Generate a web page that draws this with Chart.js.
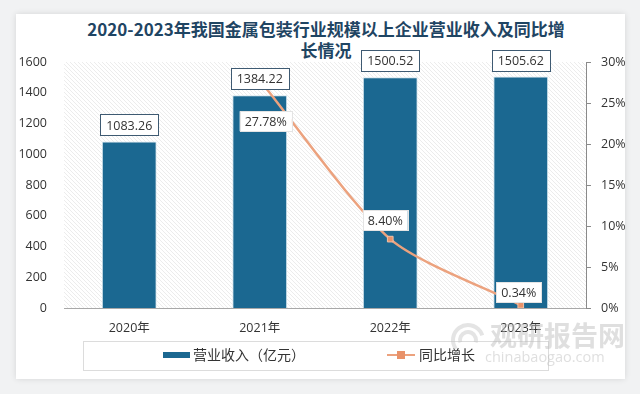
<!DOCTYPE html>
<html>
<head>
<meta charset="utf-8">
<script src="https://cdn.jsdelivr.net/npm/chart.js@4"></script>
<style>
  body { margin: 0; background: #f1f2f3; width: 640px; height: 394px; overflow: hidden; position: relative; }
  .card { position: absolute; left: 16px; top: 14px; width: 609px; height: 365px; background: #fff;
          box-shadow: 0 0 6px rgba(0,0,0,0.12); }
  .title { position: absolute; left: 0; top: 18px; width: 652px; text-align: center;
           font: bold 17px "Noto Sans CJK SC", sans-serif; line-height: 21px; color: #1f4563; }
  .wrap { position: absolute; left: 0; top: 0; width: 640px; height: 394px; }
</style>
</head>
<body>
<div class="card"></div>
<div class="title">2020-2023年我国金属包装行业规模以上企业营业收入及同比增<br>长情况</div>
<div class="wrap"><canvas id="chart" width="640" height="394"></canvas></div>
<script>
// 数据
const years = ['2020年', '2021年', '2022年', '2023年'];
const revenue = [1083.26, 1384.22, 1500.52, 1505.62];   // 营业收入（亿元）
const growth = [null, 27.78, 8.40, 0.34];               // 同比增长（%）
const leftTicks = [0, 200, 400, 600, 800, 1000, 1200, 1400, 1600];
const rightTicks = [0, 5, 10, 15, 20, 25, 30];

const barColor = '#1b6891';
const lineColor = '#eca27e';
const numFont = '12.5px "Open Sans", sans-serif';

// 折线标签相对数据点的偏移
const lineLabelOffsets = [null, [6, 41], [-5, -19], [-2, -13]];

// 斜线底纹
const hatchPlugin = {
    id: 'hatch',
    beforeDraw(chart) {
        const { ctx, chartArea: a } = chart;
        ctx.save();
        ctx.beginPath();
        ctx.rect(a.left, a.top, a.right - a.left, a.bottom - a.top);
        ctx.clip();
        ctx.strokeStyle = '#ececec';
        ctx.lineWidth = 1;
        const h = a.bottom - a.top;
        for (let k = a.left - h; k < a.right; k += 4) {
            ctx.beginPath();
            ctx.moveTo(k, a.top);
            ctx.lineTo(k + h, a.bottom);
            ctx.stroke();
        }
        ctx.restore();
    }
};

// 数据标签
const labelPlugin = {
    id: 'valueLabels',
    afterDatasetsDraw(chart) {
        const ctx = chart.ctx;
        ctx.save();
        ctx.font = numFont;
        ctx.textAlign = 'center';
        ctx.textBaseline = 'middle';

        chart.getDatasetMeta(0).data.forEach((el, i) => {
            const txt = revenue[i].toFixed(2);
            const w = ctx.measureText(txt).width + 12, h = 21;
            const x = el.x, y = el.y - 6 - h / 2;
            ctx.fillStyle = '#fff';
            ctx.fillRect(x - w / 2, y - h / 2, w, h);
            ctx.strokeStyle = '#3e5a72';
            ctx.lineWidth = 1;
            ctx.strokeRect(Math.round(x - w / 2) + 0.5, Math.round(y - h / 2) + 0.5, Math.round(w), h);
            ctx.fillStyle = '#333';
            ctx.fillText(txt, x, y + 1);
        });

        chart.getDatasetMeta(1).data.forEach((el, i) => {
            if (growth[i] === null) return;
            const txt = growth[i].toFixed(2) + '%';
            const off = lineLabelOffsets[i];
            const w = ctx.measureText(txt).width + 10, h = 20;
            const x = el.x + off[0], y = el.y + off[1];
            ctx.fillStyle = '#fff';
            ctx.fillRect(x - w / 2, y - h / 2, w, h);
            ctx.strokeStyle = '#e4e4e4';
            ctx.strokeRect(Math.round(x - w / 2) + 0.5, Math.round(y - h / 2) + 0.5, Math.round(w), h);
            ctx.fillStyle = '#333';
            ctx.fillText(txt, x, y + 1);
        });
        ctx.restore();
    }
};

// 图例与水印
const legendPlugin = {
    id: 'boxLegend',
    afterDraw(chart) {
        const ctx = chart.ctx;
        const ds = chart.data.datasets;
        ctx.save();
        ctx.strokeStyle = '#dcdcdc';
        ctx.lineWidth = 1;
        ctx.strokeRect(83.5, 341.5, 465, 29);

        ctx.fillStyle = ds[0].backgroundColor;
        ctx.fillRect(163, 352, 27, 6);
        ctx.font = '14px "Noto Sans CJK SC", sans-serif';
        ctx.textBaseline = 'middle';
        ctx.fillStyle = '#333';
        ctx.fillText(ds[0].label, 193, 355);

        ctx.strokeStyle = ds[1].borderColor;
        ctx.lineWidth = 2;
        ctx.beginPath();
        ctx.moveTo(387, 355);
        ctx.lineTo(415, 355);
        ctx.stroke();
        ctx.fillStyle = ds[1].pointBackgroundColor;
        ctx.fillRect(397, 351, 8, 8);
        ctx.fillStyle = '#333';
        ctx.fillText(ds[1].label, 419, 355);

        // 水印
        ctx.globalAlpha = 0.45;
        ctx.fillStyle = '#b9b9b9';
        ctx.font = 'bold 27px "Noto Sans CJK SC", sans-serif';
        ctx.fillText('观研报告网', 490, 336);
        ctx.font = '14.5px "Open Sans", sans-serif';
        ctx.fillText('chinabaogao.com', 485, 358);
        ctx.lineWidth = 4;
        ctx.strokeStyle = '#c4c4c4';
        ctx.beginPath();
        ctx.arc(468, 340, 15, Math.PI * 0.8, Math.PI * 1.9);
        ctx.stroke();
        ctx.beginPath();
        ctx.arc(468, 340, 8, Math.PI * 0.9, Math.PI * 2.1);
        ctx.stroke();
        ctx.restore();
    }
};

new Chart(document.getElementById('chart'), {
    type: 'bar',
    data: {
        labels: years,
        datasets: [
            {
                type: 'bar',
                label: '营业收入（亿元）',
                data: revenue,
                backgroundColor: barColor,
                borderColor: '#d3e4ee',
                borderWidth: 1,
                barPercentage: 0.42,
                categoryPercentage: 1,
                yAxisID: 'y',
                order: 2
            },
            {
                type: 'line',
                label: '同比增长',
                data: growth,
                borderColor: lineColor,
                backgroundColor: lineColor,
                borderWidth: 2.5,
                tension: 0.25,
                pointStyle: 'rect',
                pointRadius: 4,
                pointBackgroundColor: '#e8926a',
                pointBorderColor: '#f3c2a8',
                pointBorderWidth: 1,
                yAxisID: 'y1',
                order: 1
            }
        ]
    },
    options: {
        responsive: false,
        animation: false,
        layout: { padding: { top: 62, left: 0, right: 0, bottom: 0 } },
        plugins: { legend: { display: false }, tooltip: { enabled: false } },
        scales: {
            x: {
                grid: { display: false, drawTicks: false },
                border: { display: true, color: '#a8a8a8' },
                ticks: { color: '#333', font: { family: '"Open Sans", "Noto Sans CJK SC", sans-serif', size: 12.5 }, padding: 13 },
                afterFit: s => { s.width; s.height = 86; }
            },
            y: {
                position: 'left',
                min: 0, max: 1600,
                grid: { display: false, drawTicks: false },
                border: { display: false },
                afterBuildTicks: s => { s.ticks = leftTicks.map(v => ({ value: v })); },
                ticks: { color: '#333', font: { family: '"Open Sans", sans-serif', size: 12.5 }, padding: 17,
                         callback: v => String(v) },
                afterFit: s => { s.width = 64; }
            },
            y1: {
                position: 'right',
                min: 0, max: 30,
                grid: { display: true, drawOnChartArea: false, drawTicks: true, tickLength: 5, color: '#8a8a8a' },
                border: { display: true, color: '#8a8a8a' },
                afterBuildTicks: s => { s.ticks = rightTicks.map(v => ({ value: v })); },
                ticks: { color: '#333', font: { family: '"Open Sans", sans-serif', size: 12.5 }, padding: 10,
                         callback: v => v + '%' },
                afterFit: s => { s.width = 54; }
            }
        }
    },
    plugins: [hatchPlugin, labelPlugin, legendPlugin]
});
</script>
</body>
</html>
